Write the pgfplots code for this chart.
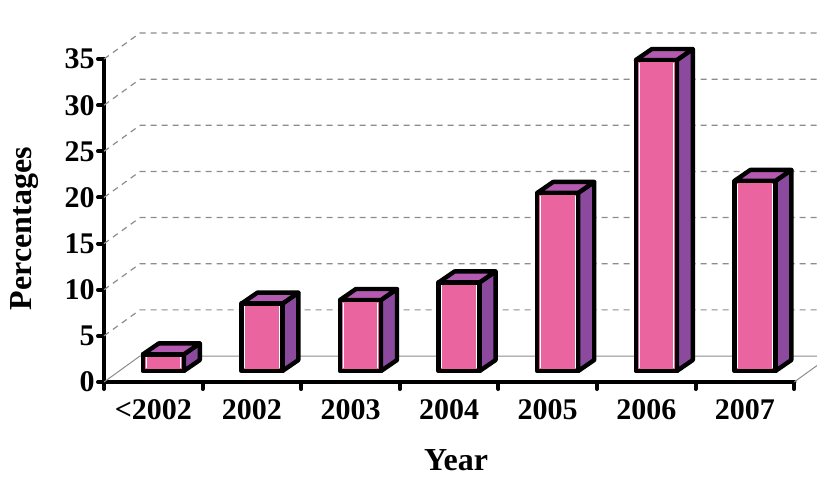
\documentclass[border=0pt]{standalone}
\usepackage{pgfplots}
\pgfplotsset{compat=1.18}
\usepackage{fontspec}
\setmainfont{Liberation Serif}

\definecolor{barfront}{HTML}{EA64A0}
\definecolor{barside}{HTML}{8C4A9E}
\definecolor{bartop}{HTML}{B45AB0}
\definecolor{gridgray}{HTML}{8C8C8C}

% geometry of the pseudo-3D columns
\def\yunitlen{4.614pt}% one percentage point
\def\hw{10.25pt}% half width of the front face
\def\fx{5pt}\def\fy{5.5pt}% offset of the front face from the front plane
\def\dx{8pt}\def\dy{5.5pt}% depth of each column
\def\wallx{18pt}\def\wally{13pt}% offset of the back wall

\pgfdeclareplotmark{column3d}{%
  \pgfmathsetlengthmacro\bh{\barval*\yunitlen}%
  \pgfmathsetlengthmacro\xl{\fx-\hw}%
  \pgfmathsetlengthmacro\xr{\fx+\hw}%
  \pgfmathsetlengthmacro\yb{\fy-\bh}%
  \pgfmathsetlengthmacro\yt{\fy}%
  \pgfmathsetlengthmacro\xlb{\xl+\dx}%
  \pgfmathsetlengthmacro\xrb{\xr+\dx}%
  \pgfmathsetlengthmacro\ybb{\yb+\dy}%
  \pgfmathsetlengthmacro\ytb{\yt+\dy}%
  \pgfsetlinewidth{2.2pt}%
  \pgfsetroundjoin
  \pgfsetstrokecolor{black}%
  % side face
  \pgfsetfillcolor{barside}%
  \pgfpathmoveto{\pgfpoint{\xr}{\yb}}%
  \pgfpathlineto{\pgfpoint{\xrb}{\ybb}}%
  \pgfpathlineto{\pgfpoint{\xrb}{\ytb}}%
  \pgfpathlineto{\pgfpoint{\xr}{\yt}}%
  \pgfpathclose
  \pgfusepath{fill,stroke}%
  % top face
  \pgfsetfillcolor{bartop}%
  \pgfpathmoveto{\pgfpoint{\xl}{\yt}}%
  \pgfpathlineto{\pgfpoint{\xlb}{\ytb}}%
  \pgfpathlineto{\pgfpoint{\xrb}{\ytb}}%
  \pgfpathlineto{\pgfpoint{\xr}{\yt}}%
  \pgfpathclose
  \pgfusepath{fill,stroke}%
  % front face
  \pgfsetfillcolor{barfront}%
  \pgfpathrectanglecorners{\pgfpoint{\xl}{\yb}}{\pgfpoint{\xr}{\yt}}%
  \pgfusepath{fill,stroke}%
  % thin highlights along the vertical edges
  \pgfsetlinewidth{0.5pt}%
  \pgfsetstrokecolor{white}%
  \pgfmathsetlengthmacro\hl{\xl+1.6pt}%
  \pgfmathsetlengthmacro\hr{\xr-1.6pt}%
  \pgfmathsetlengthmacro\hb{\yb+1.4pt}%
  \pgfmathsetlengthmacro\htop{\yt-1.4pt}%
  \pgfpathmoveto{\pgfpoint{\hl}{\hb}}\pgfpathlineto{\pgfpoint{\hl}{\htop}}%
  \pgfpathmoveto{\pgfpoint{\hr}{\hb}}\pgfpathlineto{\pgfpoint{\hr}{\htop}}%
  \pgfusepath{stroke}%
}

\begin{document}
\begin{tikzpicture}
\begin{axis}[
  at={(0,0)}, anchor=south west,
  x=49.3pt, y=4.614pt,
  xmin=-0.5, xmax=6.5, ymin=0, ymax=35,
  clip=false,
  axis lines*=left,
  x axis line style={-, line width=2.2pt, line cap=round},
  y axis line style={-, line width=2.2pt, line cap=round},
  ytick={0,5,...,35},
  xtick={0,...,6},
  xticklabels={{<2002},2002,2003,2004,2005,2006,2007},
  minor xtick={-0.5,0.5,...,6.5},
  tick align=outside,
  major tick length=3pt,
  minor tick length=3.5pt,
  tick style={line width=2pt, black, line cap=round},
  major x tick style={draw=none},
  minor x tick style={line width=2pt, black, line cap=round},
  /pgf/number format/assume math mode=true,
  ticklabel style={font=\fontsize{15}{17}\selectfont\bfseries},
  yticklabel style={inner sep=1.5pt},
  xticklabel style={anchor=center, yshift=-11pt},
  xlabel={Year},
  ylabel={Percentages},
  label style={font=\fontsize{16}{18}\selectfont\bfseries},
  xlabel style={at={(axis description cs:0.51,0)}, anchor=center, yshift=-39pt},
  ylabel style={at={(axis description cs:-0.1145,0.475)}, anchor=center},
]
  % back wall grid lines and their run along the left wall
  \pgfplotsinvokeforeach{5,10,...,35}{
    \draw[gridgray, line width=0.6pt, dash pattern=on 3pt off 2.5pt]
      (axis cs:-0.5,#1) -- ([shift={(\wallx,\wally)}]axis cs:-0.5,#1)
      -- ([shift={(\wallx,\wally)}]axis cs:6.5,#1);
  }
  % floor outline
  \draw[gridgray, line width=0.5pt]
    (axis cs:-0.5,0) -- ([shift={(\wallx,\wally)}]axis cs:-0.5,0)
    -- ([shift={(\wallx,\wally)}]axis cs:6.5,0) -- (axis cs:6.5,0);

  \addplot[only marks, mark=column3d, visualization depends on={rawy \as \barval}]
    coordinates {(0,1.8) (1,7.3) (2,7.7) (3,9.6) (4,19.3) (5,33.7) (6,20.6)};
\end{axis}
\pgfresetboundingbox
\path (-52pt,-48.5pt) rectangle (356.5pt,191pt);
\end{tikzpicture}
\end{document}
